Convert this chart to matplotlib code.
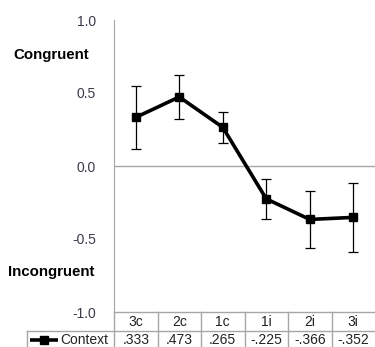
import matplotlib.pyplot as plt
from matplotlib.lines import Line2D

plt.rcParams['font.family'] = ['Liberation Sans', 'DejaVu Sans']

# data
categories = ["3c", "2c", "1c", "1i", "2i", "3i"]
context = [0.333, 0.473, 0.265, -0.225, -0.366, -0.352]
errors = [0.215, 0.15, 0.105, 0.135, 0.195, 0.235]
value_labels = [".333", ".473", ".265", "-.225", "-.366", "-.352"]
y_ticks = [-1.0, -0.5, 0.0, 0.5, 1.0]

W, H = 375, 347
fig = plt.figure(figsize=(W / 100, H / 100), dpi=100)

left, right, top, bottom = 114, 375, 20, 312
ax = fig.add_axes([left / W, 1 - bottom / H, (right - left) / W, (bottom - top) / H])

x = list(range(len(categories)))
ax.errorbar(x, context, yerr=errors, color="black", lw=2.6, marker="s", ms=6,
            ecolor="black", elinewidth=0.9, capsize=3.5, capthick=0.9, zorder=3)

ax.set_xlim(-0.5, len(categories) - 0.5)
ax.set_ylim(-1.0, 1.0)
ax.axhline(0, color="#a6a6a6", lw=1, zorder=1)

for s in ["top", "right", "bottom"]:
    ax.spines[s].set_visible(False)
ax.spines["left"].set_color("#a6a6a6")
ax.spines["left"].set_bounds(-1.0, 1.0)
ax.set_xticks([])
ax.set_yticks(y_ticks)
ax.set_yticklabels([f"{t:.1f}" for t in y_ticks], fontsize=10, color="#3a3a4a")
ax.tick_params(axis="y", length=0, pad=13)

# side labels
fig.text(13 / W, 1 - 55 / H, "Congruent", fontsize=10.8, fontweight="bold", va="center", ha="left")
fig.text(8 / W, 1 - 272 / H, "Incongruent", fontsize=10.8, fontweight="bold", va="center", ha="left")

# data table under the plot (pixel coords)
def fx(px):
    return px / W

def fy(py):
    return 1 - py / H

grid = "#a6a6a6"
row1, row2, row3 = 312, 331, 347
col_w = (right - left) / len(categories)
fig.add_artist(Line2D([fx(left), fx(W)], [fy(row1), fy(row1)], color=grid, lw=1))
fig.add_artist(Line2D([fx(27), fx(W)], [fy(row2), fy(row2)], color=grid, lw=1))
fig.add_artist(Line2D([fx(left), fx(left)], [fy(row1), fy(row3)], color=grid, lw=1))
fig.add_artist(Line2D([fx(27), fx(27)], [fy(row2), fy(row3)], color=grid, lw=1))
for i in range(1, len(categories)):
    xb = left + i * col_w
    fig.add_artist(Line2D([fx(xb), fx(xb)], [fy(row1), fy(row3)], color=grid, lw=1))

for i, (c, v) in enumerate(zip(categories, value_labels)):
    xc = left + (i + 0.5) * col_w
    fig.text(fx(xc), fy((row1 + row2) / 2 + 1), c, fontsize=10, ha="center", va="center", color="#222222")
    fig.text(fx(xc), fy(row2 + 9), v, fontsize=10, ha="center", va="center", color="#222222")

# legend key in the table
fig.add_artist(Line2D([fx(30), fx(58)], [fy(row2 + 9), fy(row2 + 9)], color="black", lw=2.6,
                      solid_capstyle="butt"))
fig.add_artist(Line2D([fx(44)], [fy(row2 + 9)], color="black", marker="s", ms=6, lw=0))
fig.text(fx(60), fy(row2 + 9), "Context", fontsize=10, ha="left", va="center", color="#222222")

fig.savefig("out.png", dpi=100)
